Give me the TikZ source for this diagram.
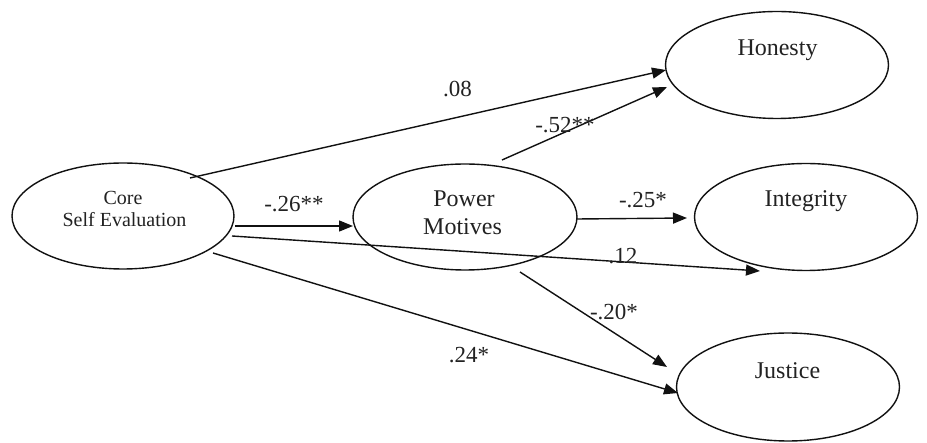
\documentclass[tikz,border=0pt]{standalone}
\usepackage{fontspec}
\setmainfont{Liberation Serif}
\usetikzlibrary{arrows.meta,calc,shapes.geometric}
\definecolor{linec}{HTML}{111111}
\definecolor{textc}{HTML}{222222}
\begin{document}
\begin{tikzpicture}[x=1pt,y=-1pt,
  ell/.style={draw=linec, line width=1.4pt, ellipse, inner sep=0pt,
              minimum width=222pt, minimum height=106pt},
  nt/.style={text=textc, anchor=base, inner sep=0pt, font=\fontsize{24}{28}\selectfont},
  ntsmall/.style={nt, font=\fontsize{20}{24}\selectfont},
  lab/.style={text=textc, anchor=base, inner sep=0pt, font=\fontsize{23}{27}\selectfont},
  conn/.style={draw=linec, line width=1.4pt, -{Triangle[length=14pt,width=11pt]}}]
\fill[white] (0,0) rectangle (927,443);
\useasboundingbox (0,0) rectangle (927,443);

% ellipses
\node[ell] (core) at (123,216) {};
\node[ell, minimum width=224pt] (pow) at (465,217) {};
\node[ell, minimum width=223pt, minimum height=107pt] (hon) at (777,65) {};
\node[ell, minimum width=223pt, minimum height=107pt] (int) at (806,217) {};
\node[ell, minimum width=223pt, minimum height=108pt] (jus) at (788,387) {};

% texts
\node[ntsmall] (coreA) at (123,205) {Core};
\node[ntsmall] (coreB) at (124.5,227) {Self Evaluation};
\node[nt] (powA) at (464,207) {Power};
\node[nt] (powB) at (462.5,235) {Motives};
\node[nt] (honT) at (777.5,56) {Honesty};
\node[nt] (intT) at (806,207) {Integrity};
\node[nt] (jusT) at (787.5,379) {Justice};

% connectors
\draw[conn] ($(core.center)+(67,-38)$) -- ($(hon.center)+(-111,5)$);
\draw[conn] ($(pow.center)+(37,-57)$) -- ($(hon.center)+(-110,22)$);
\draw[conn] ($(core.center)+(112,10)$) -- ($(pow.center)+(-112,9)$);
\draw[conn] ($(pow.center)+(112,2)$) -- ($(int.center)+(-119,1)$);
\draw[conn] ($(core.center)+(109,20)$) -- ($(int.center)+(-46,54)$);
\draw[conn] ($(pow.center)+(55,55)$) -- ($(jus.center)+(-121,-20)$);
\draw[conn] ($(core.center)+(90,37)$) -- ($(jus.center)+(-110,6)$);

% labels
\node[lab] (l08) at (457.5,97) {.08};
\node[lab] (l52) at (565,133) {-.52**};
\node[lab] (l26) at (294,212) {-.26**};
\node[lab] (l25) at (643,208) {-.25*};
\node[lab] (l12) at (623,264) {.12};
\node[lab] (l20) at (614,320) {-.20*};
\node[lab] (l24) at (469,363) {.24*};
\end{tikzpicture}
\end{document}
